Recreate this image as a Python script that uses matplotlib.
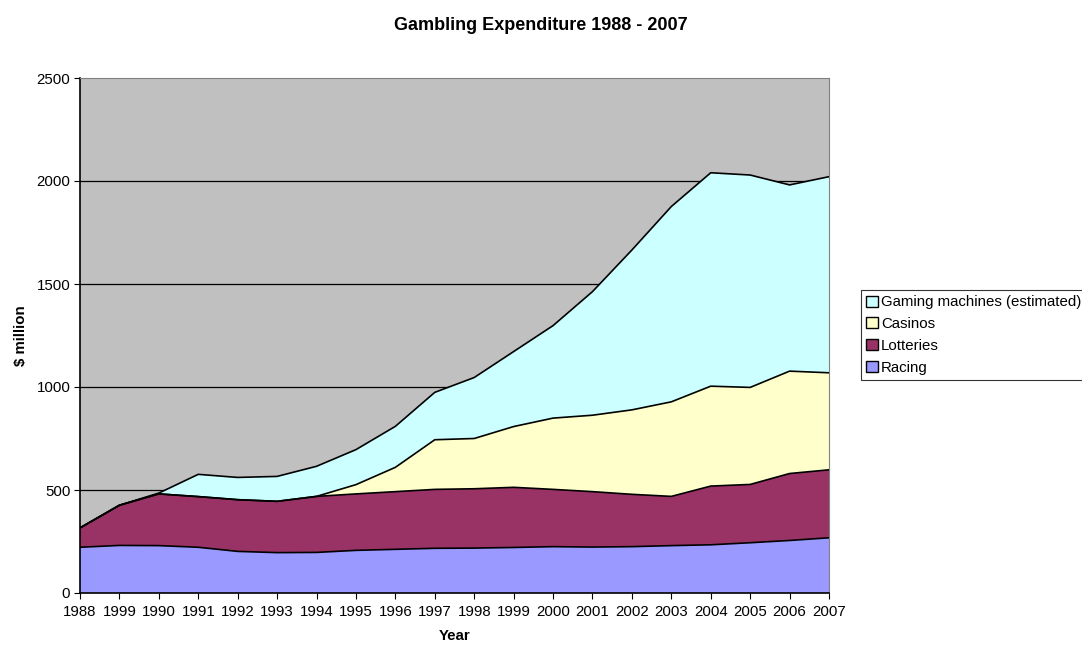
import numpy as np
import matplotlib.pyplot as plt
from matplotlib.patches import Patch

plt.rcParams['font.family'] = ['Liberation Sans', 'DejaVu Sans']

# === Data ($ million) ===
years = ['1988', '1999', '1990', '1991', '1992', '1993', '1994', '1995', '1996', '1997',
         '1998', '1999', '2000', '2001', '2002', '2003', '2004', '2005', '2006', '2007']
racing = [222, 231, 230, 222, 202, 196, 197, 207, 212, 217,
          218, 221, 225, 223, 225, 230, 234, 244, 255, 268]
lotteries = [94, 195, 251, 246, 251, 249, 272, 274, 280, 286,
             288, 292, 278, 269, 254, 239, 285, 283, 325, 330]
casinos = [0, 0, 0, 0, 0, 0, 0, 45, 118, 241,
           244, 295, 346, 371, 410, 459, 485, 471, 497, 471]
gaming = [0, 0, 4, 108, 108, 121, 146, 170, 199, 230,
          296, 364, 449, 600, 776, 948, 1036, 1031, 904, 952]

series = [('Racing', racing, '#9999FF'),
          ('Lotteries', lotteries, '#993366'),
          ('Casinos', casinos, '#FFFFCC'),
          ('Gaming machines (estimated)', gaming, '#CCFFFF')]

FS = 10.8

# === Plot ===
fig = plt.figure(figsize=(10.82, 6.48), dpi=100)
ax = fig.add_axes([80 / 1082, 55 / 648, 749 / 1082, 515 / 648])
ax.set_facecolor('#C0C0C0')

x = np.arange(len(years))
base = np.zeros(len(years))
for name, vals, col in series:
    top = base + np.array(vals)
    ax.fill_between(x, base, top, facecolor=col, edgecolor='none', zorder=2)
    ax.plot(x, top, color='black', lw=1.2, zorder=3)
    base = top

ax.set_xlim(0, len(years) - 1)
ax.set_ylim(0, 2500)
ax.set_yticks(range(0, 2501, 500))
for v in range(500, 2001, 500):
    ax.axhline(v, color='black', lw=0.9, zorder=1)

ax.set_xticks(x)
ax.set_xticklabels(years, fontsize=FS)
ax.tick_params(axis='y', labelsize=FS, length=4, direction='out', pad=3)
ax.tick_params(axis='x', length=4, direction='out', pad=5)
for s in ['top', 'right']:
    ax.spines[s].set_color('#808080')
for s in ['left', 'bottom']:
    ax.spines[s].set_linewidth(1.2)

ax.set_xlabel('Year', fontsize=FS, fontweight='bold', labelpad=7)
ax.set_ylabel('$ million', fontsize=FS, fontweight='bold', labelpad=6)
fig.text(0.5, 1 - 25 / 648, 'Gambling Expenditure 1988 - 2007',
         ha='center', va='center', fontsize=13, fontweight='bold')

# === Legend ===
handles = [Patch(facecolor=col, edgecolor='black', lw=1, label=name)
           for name, vals, col in reversed(series)]
leg = fig.legend(handles=handles, loc='upper left',
                 bbox_to_anchor=(861 / 1082, 1 - 290 / 648),
                 fontsize=FS, frameon=True, fancybox=False,
                 handlelength=0.75, handleheight=0.75, handletextpad=0.25,
                 labelspacing=0.52, borderpad=0.35, borderaxespad=0)
leg.get_frame().set_edgecolor('black')
leg.get_frame().set_linewidth(0.8)

fig.savefig('out.png', dpi=100)
